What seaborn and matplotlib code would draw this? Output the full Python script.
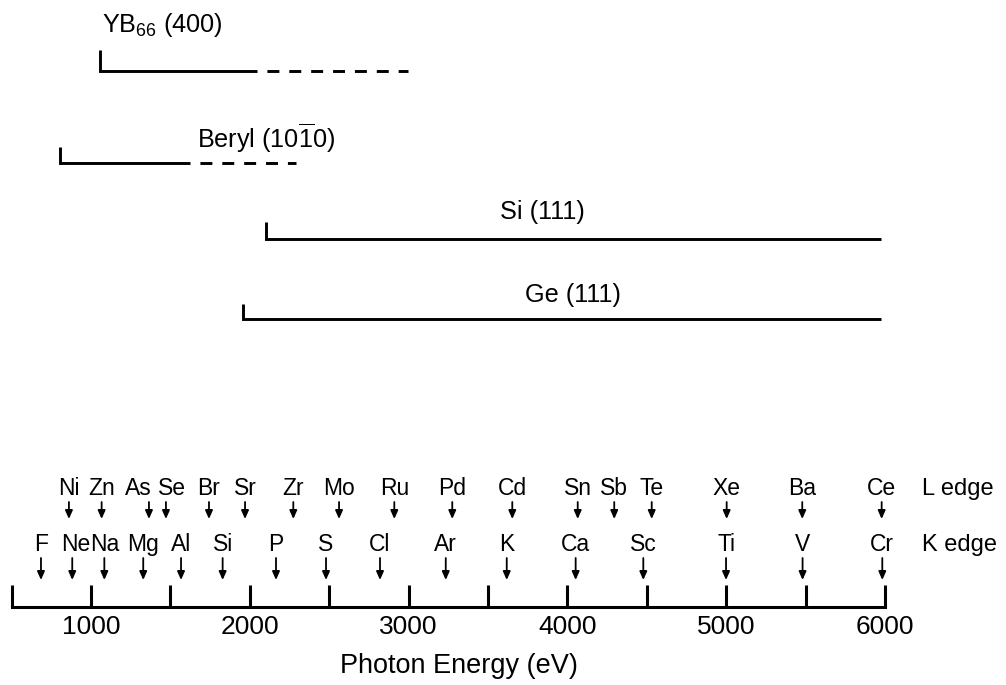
import matplotlib
matplotlib.use("Agg")
import matplotlib.pyplot as plt
import pandas as pd
import seaborn as sns

# Crystal analyser ranges (eV): lower limit, end of the solid part, end of the dashed part
crystals = ["YB66 (400)", "Beryl (1010)", "Si (111)", "Ge (111)"]
crystal_labels = [r"YB$_{66}$ (400)", r"Beryl (10$\overline{1}$0)", "Si (111)", "Ge (111)"]
range_start = [1057, 805, 2102, 1957]
solid_end = [2045, 1623, 5975, 5975]
dashed_end = [2996, 2291, 5975, 5975]

# Absorption edges (eV)
l_elements = ["Ni", "Zn", "As", "Se", "Br", "Sr", "Zr", "Mo", "Ru", "Pd",
              "Cd", "Sn", "Sb", "Te", "Xe", "Ba", "Ce"]
l_energies = [861, 1067, 1365, 1472, 1743, 1970, 2274, 2562, 2910, 3275,
              3653, 4065, 4295, 4531, 5003, 5479, 5979]
k_elements = ["F", "Ne", "Na", "Mg", "Al", "Si", "P", "S", "Cl", "Ar",
              "K", "Ca", "Sc", "Ti", "V", "Cr"]
k_energies = [685, 882, 1084, 1329, 1567, 1829, 2165, 2480, 2820, 3234,
              3618, 4052, 4478, 4999, 5481, 5983]

major_ticks = [1000, 2000, 3000, 4000, 5000, 6000]
minor_ticks = [500, 1500, 2500, 3500, 4500, 5500]
axis_range = (500, 6000)

sns.set_theme(style="ticks", rc={"text.color": "black", "axes.edgecolor": "black",
                                 "xtick.color": "black", "axes.labelcolor": "black"})
plt.rcParams["font.family"] = ["Liberation Sans", "DejaVu Sans"]
plt.rcParams["mathtext.fontset"] = "custom"
plt.rcParams["mathtext.rm"] = "Liberation Sans"
plt.rcParams["mathtext.it"] = "Liberation Sans:italic"
plt.rcParams["mathtext.default"] = "regular"

fig = plt.figure(figsize=(10.06, 6.85), dpi=100)
ax = fig.add_axes([0, 0, 1, 1])
ax.set_xlim(427, 6762)
ax.set_ylim(685, 0)

# vertical layout (screen rows) for each crystal: (tick top, line level)
rows = {"YB66 (400)": (50, 71), "Beryl (1010)": (147, 163),
        "Si (111)": (222, 239), "Ge (111)": (304, 319)}
label_pos = {"YB66 (400)": (1069, 32, "left"), "Beryl (1010)": (1667, 148, "left"),
             "Si (111)": (3576, 219, "left"), "Ge (111)": (3733, 302, "left")}

LW = 2.1
records = []
for name, e0, e1 in zip(crystals, range_start, solid_end):
    top, level = rows[name]
    records += [
        {"crystal": name, "order": 0, "energy": e0, "y": top},
        {"crystal": name, "order": 1, "energy": e0, "y": level},
        {"crystal": name, "order": 2, "energy": e1, "y": level},
    ]
segments = pd.DataFrame(records)
sns.lineplot(data=segments, x="energy", y="y", units="crystal", estimator=None,
             sort=False, color="black", lw=LW, legend=False, ax=ax,
             solid_joinstyle="miter", solid_capstyle="butt")

for name, e1, e2, lab in zip(crystals, solid_end, dashed_end, crystal_labels):
    _, level = rows[name]
    if e2 > e1:
        ax.plot([e1, e2], [level, level], color="black", lw=LW,
                linestyle=(4.1, (4.1, 3.4)), dash_capstyle="butt")
    lx, ly, ha = label_pos[name]
    ax.text(lx, ly, lab, fontsize=18.2, ha=ha, va="baseline")

# edge markers
arrow = dict(arrowstyle="-|>,head_length=0.45,head_width=0.2", color="black",
             lw=1.3, mutation_scale=11, shrinkA=0, shrinkB=0)
l_shift = {"As": -11, "Se": 6}
k_shift = {"Ne": 3}
for el, e in zip(l_elements, l_energies):
    ax.annotate(el, xy=(e, 495), xytext=(l_shift.get(el, 0) * 0.72, 0),
                textcoords="offset points", ha="center", va="baseline", fontsize=16.5)
    ax.annotate("", xy=(e, 519), xytext=(e, 502), arrowprops=arrow)
for el, e in zip(k_elements, k_energies):
    ax.annotate(el, xy=(e, 551), xytext=(k_shift.get(el, 0) * 0.72, 0),
                textcoords="offset points", ha="center", va="baseline", fontsize=16.5)
    ax.annotate("", xy=(e, 580), xytext=(e, 558), arrowprops=arrow)

ax.text(6235, 495, "L edge", fontsize=17, ha="left", va="baseline")
ax.text(6235, 551, "K edge", fontsize=17, ha="left", va="baseline")

# energy axis
for side in ["top", "left", "right"]:
    ax.spines[side].set_visible(False)
ax.spines["bottom"].set_position(("data", 607))
ax.spines["bottom"].set_bounds(*axis_range)
ax.spines["bottom"].set_linewidth(2.2)
ax.spines["bottom"].set_capstyle("projecting")
ax.set_xticks(major_ticks)
ax.set_xticks(minor_ticks, minor=True)
ax.set_xticklabels([str(t) for t in major_ticks])
ax.tick_params(axis="x", which="both", direction="in", length=15.8, width=2.2,
               bottom=True, top=False)
ax.tick_params(axis="x", which="major", labelsize=19, pad=5.5)
ax.set_yticks([])
ax.set_ylabel("")
ax.set_xlabel("Photon Energy (eV)", fontsize=19.5)
ax.xaxis.set_label_coords(459 / 1006, 1 - 653 / 685)

fig.savefig("out.png", dpi=100, facecolor="white")
